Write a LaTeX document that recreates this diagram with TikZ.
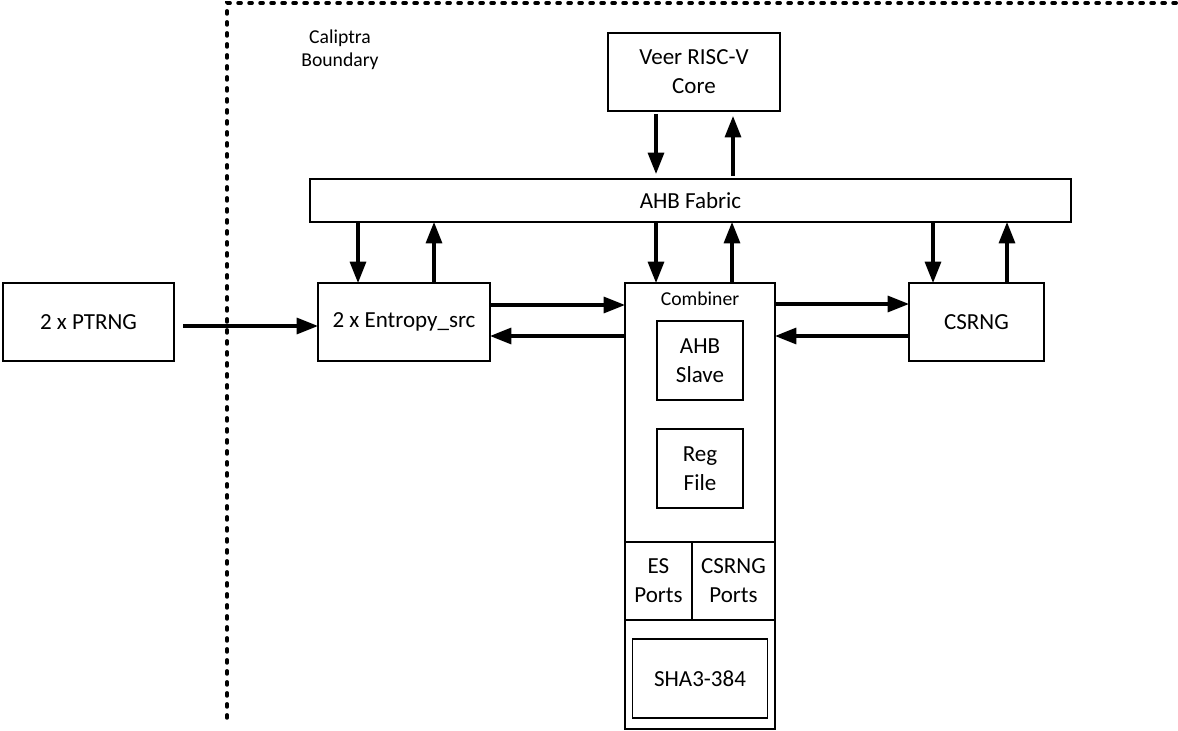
\documentclass[tikz,border=0pt]{standalone}
\usepackage{fontspec}
\setmainfont{Carlito}
\usepackage{tikz}
\usetikzlibrary{positioning, arrows.meta}

\begin{document}
\begin{tikzpicture}[
			x=0.75pt, y=-0.75pt,
			font=\fontsize{17.25}{21.75}\selectfont,
			block/.style={rectangle, draw, line width=1.1pt, outer sep=0pt, align=center, minimum height=58.5pt},
			subblock/.style={rectangle, draw, line width=1.1pt, outer sep=0pt, align=center, inner sep=0pt},
			smalltext/.style={font=\fontsize{14.75}{17.25}\selectfont, align=center},
			arrow/.style={-{Triangle[length=16pt, width=12pt]}, line width=2.4pt},
			boundary/.style={line width=2.6pt, line cap=round, dash pattern=on 2.4pt off 5.85pt}
			]
			\useasboundingbox (0,0) rectangle (1178,731);
			% Boundary
			\coordinate (bndlow) at (227,718);
			\coordinate (bndright) at (1178,3);
			\draw [boundary] (bndlow) |- (bndright);
			\node (bndlabel) [smalltext] at (340,50) {Caliptra\\Boundary};
			
			% Nodes
			\node (ptrng) [block, minimum width=128.25pt] at (88.5,322) {2 x PTRNG};
			\node (ent) [block, minimum width=129pt, right=108pt of ptrng] {2 x Entropy\_src};
			\node (comb) [block, minimum width=112.5pt, minimum height=334.5pt, anchor=north west] at (625,283) {};
			\node (csrng) [block, minimum width=101.25pt, right=100.5pt of comb.north east, anchor=north west] {CSRNG};
			\node (veer) [block, minimum width=129pt] at (694,72) {Veer RISC-V\\Core};
			\node (fabric) [block, minimum width=570.75pt, minimum height=32.25pt] at (690.5,200.5) {AHB Fabric};
			
			% Inside the combiner
			\node (comblabel) [smalltext, below=3pt of comb.north] {Combiner};
			\node (slave) [subblock, minimum width=64.5pt, minimum height=59.25pt, below=28.5pt of comb.north] {AHB\\Slave};
			\node (reg) [subblock, minimum width=64.5pt, minimum height=59.25pt, below=21.75pt of slave] {Reg\\File};
			\node (esport) [subblock, minimum width=50.25pt, minimum height=58.5pt, below=194.25pt of comb.north west, anchor=north west] {ES\\Ports};
			\node (csport) [subblock, minimum width=62.25pt, minimum height=58.5pt, right=0pt of esport] {CSRNG\\Ports};
			\node (sha) [subblock, minimum width=101.25pt, minimum height=59.25pt, above=8.25pt of comb.south] {SHA3-384};
			
			% Arrow ends
			\coordinate (veerdn) at ([xshift=-28.5pt]veer.south);
			\coordinate (veerup) at ([xshift=29.25pt]veer.south);
			\coordinate (entdn) at ([xshift=-34.5pt]ent.north);
			\coordinate (entup) at ([xshift=22.5pt]ent.north);
			\coordinate (combdn) at ([xshift=-33pt]comb.north);
			\coordinate (combup) at ([xshift=24pt]comb.north);
			\coordinate (csrngdn) at ([xshift=-32.625pt]csrng.north);
			\coordinate (csrngup) at ([xshift=22.875pt]csrng.north);
			\coordinate (ptrngout) at ([yshift=-3pt]ptrng.east);
			\coordinate (entout) at ([yshift=12.75pt]ent.east);
			\coordinate (entin) at ([yshift=-10.5pt]ent.east);
			\coordinate (csrngin) at ([yshift=13.5pt]csrng.west);
			\coordinate (csrngout) at ([yshift=-10.5pt]csrng.west);
			
			% Arrows
			\draw [arrow, shorten <=2.25pt, shorten >=3.75pt] (veerdn) -- (veerdn |- fabric.north);
			\draw [arrow, shorten <=2.25pt, shorten >=3.75pt] (veerup |- fabric.north) -- (veerup);
			\draw [arrow] (entdn |- fabric.south) -- (entdn);
			\draw [arrow] (entup) -- (entup |- fabric.south);
			\draw [arrow] (combdn |- fabric.south) -- (combdn);
			\draw [arrow] (combup) -- (combup |- fabric.south);
			\draw [arrow] (csrngdn |- fabric.south) -- (csrngdn);
			\draw [arrow] (csrngup) -- (csrngup |- fabric.south);
			
			\draw [arrow, shorten <=6.75pt] (ptrngout) -- (ptrngout -| ent.west);
			\draw [arrow] (entout) -- (entout -| comb.west);
			\draw [arrow] (entin -| comb.west) -- (entin);
			\draw [arrow] (csrngin -| comb.east) -- (csrngin);
			\draw [arrow] (csrngout) -- (csrngout -| comb.east);
		\end{tikzpicture}
\end{document}
